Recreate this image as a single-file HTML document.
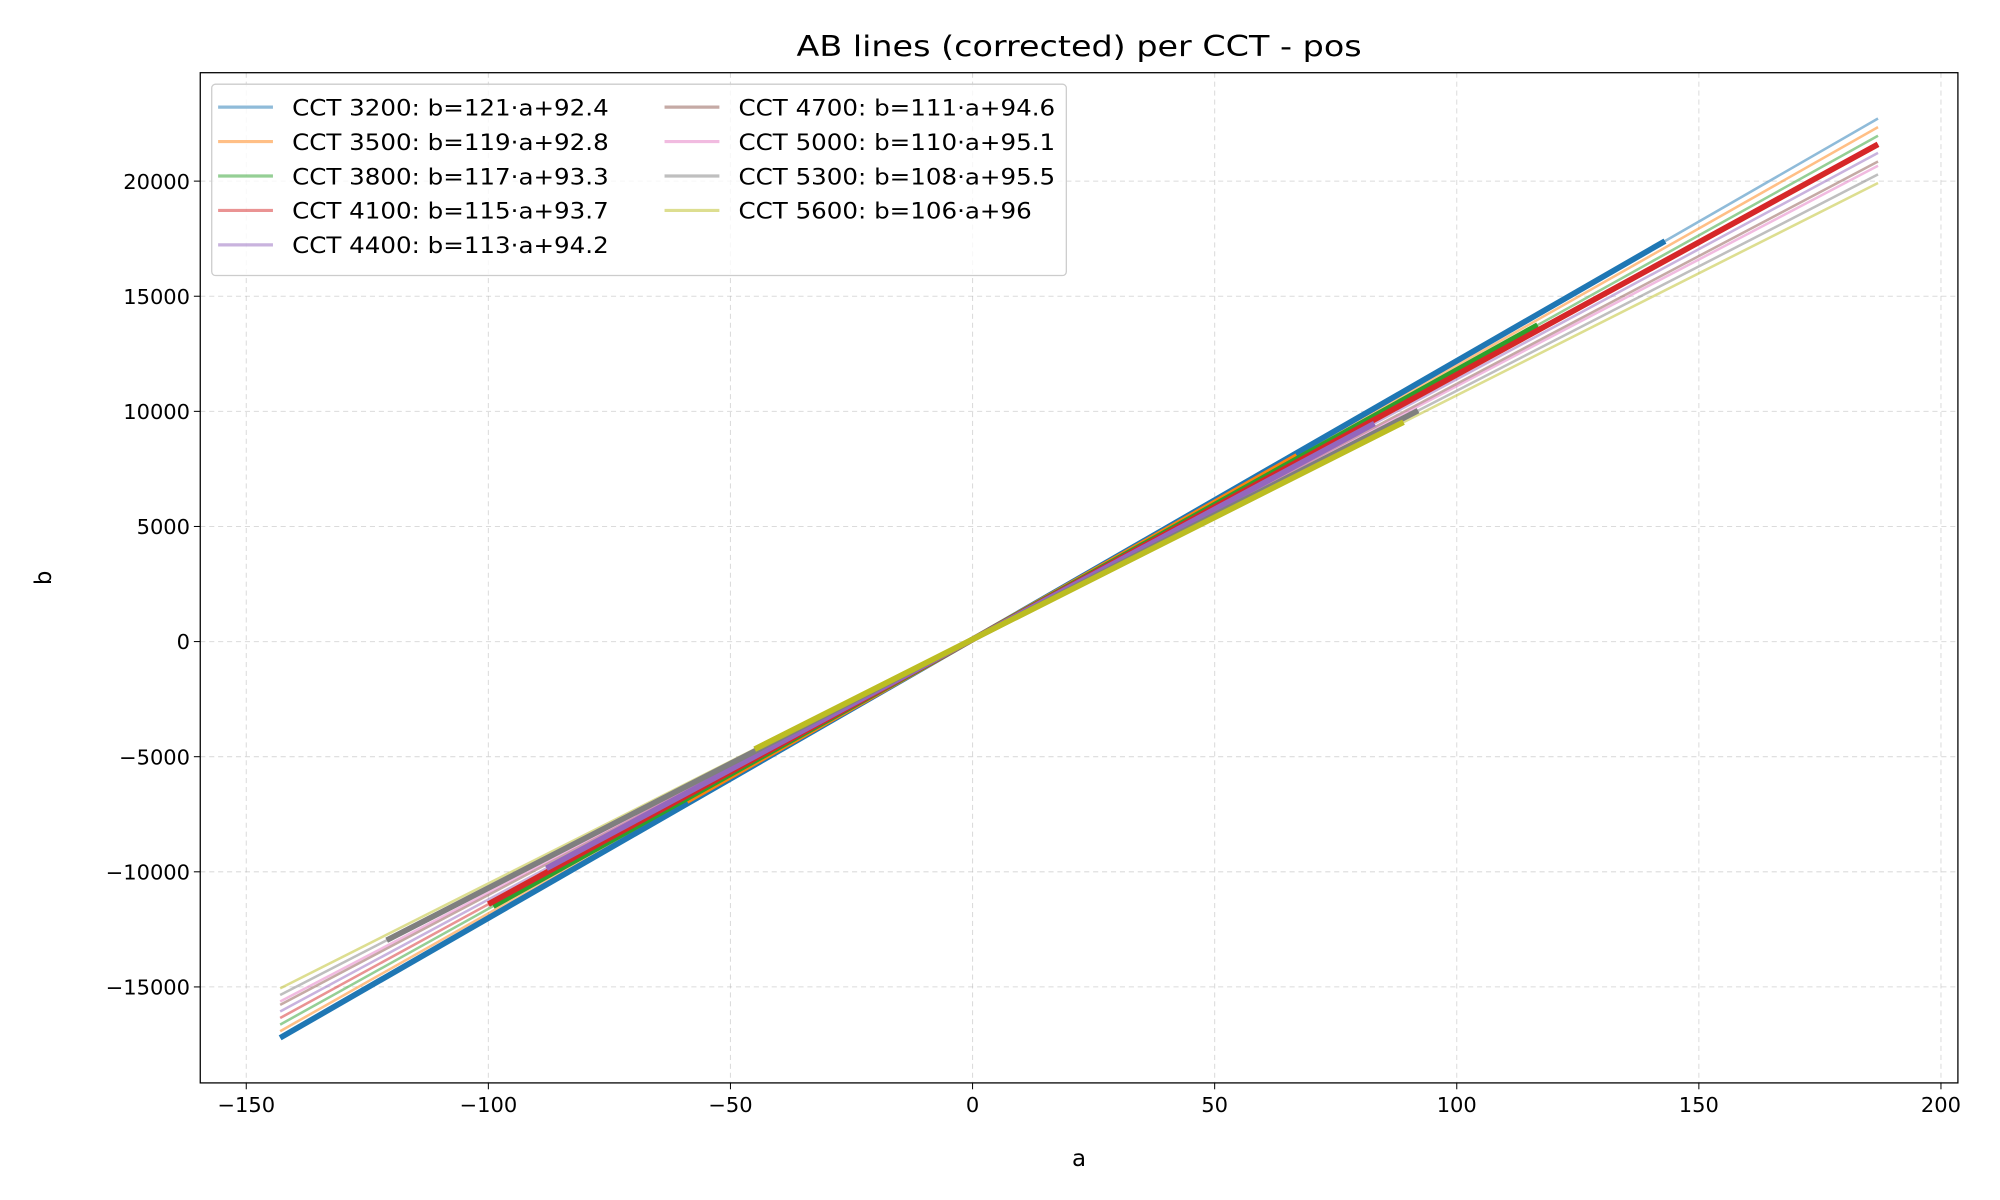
<!DOCTYPE html>
<html><head><meta charset="utf-8"><style>
html,body{margin:0;padding:0;background:#fff;}
svg{display:block;font-family:"DejaVu Sans","Liberation Sans",sans-serif;}
</style></head><body>
<svg id="chart" width="2000" height="1200" viewBox="0 0 1568 940.8" xmlns="http://www.w3.org/2000/svg">
<rect width="1568" height="941" fill="#fff"/>
<g id="grid"></g>
<g id="plot"></g>
<rect x="157" y="57" width="1378" height="792" fill="none" stroke="#000" stroke-width="1"/>
<g id="ticks"></g>
<text x="846" y="44" text-anchor="middle" font-size="22" transform="translate(846,0) scale(1.19,1) translate(-846,0)">AB lines (corrected) per CCT - pos</text>
<text x="846" y="914" text-anchor="middle" font-size="18">a</text>
<text x="40" y="453" text-anchor="middle" font-size="18" transform="rotate(-90 40 453)">b</text>
<g id="legend"></g>
</svg>
<script>
const ccts = [3200,3500,3800,4100,4400,4700,5000,5300,5600];
const slopes = [121,119,117,115,113,111,110,108,106];
const intercepts = [92.4,92.8,93.3,93.7,94.2,94.6,95.1,95.5,96];
const thickStart = [-143,-59,-99,-100,-88,null,null,-121,-45];
const thickEnd = [143,67,116.7,187,83,null,null,92,89];
const aMin = -143, aMax = 187;
const xTicks = [-150,-100,-50,0,50,100,150,200];
const yTicks = [-15000,-10000,-5000,0,5000,10000,15000,20000];
const colors = ['#1f77b4','#ff7f0e','#2ca02c','#d62728','#9467bd','#8c564b','#e377c2','#7f7f7f','#bcbd22'];

const NS='http://www.w3.org/2000/svg';
const L=157,R=1535,T=57,B=849;
const xmin=-159.5,xmax=203.5,ymin=-19169,ymax=24709;
const X=v=>L+(v-xmin)/(xmax-xmin)*(R-L);
const Y=v=>B-(v-ymin)/(ymax-ymin)*(B-T);
function mk(tag,attrs,parent){const e=document.createElementNS(NS,tag);for(const k in attrs)e.setAttribute(k,attrs[k]);parent.appendChild(e);return e;}
const sx=(x,s)=>'translate('+x+',0) scale('+s+',1) translate('+(-x)+',0)';
const grid=document.getElementById('grid'),plot=document.getElementById('plot'),ticks=document.getElementById('ticks'),leg=document.getElementById('legend');
const fmt=v=>(v<0?'\u2212':'')+Math.abs(v);
xTicks.forEach(v=>{
  const g=mk('line',{x1:X(v),x2:X(v),y1:T,y2:B,stroke:'#b0b0b0','stroke-opacity':0.45,'stroke-dasharray':'4,3','stroke-width':0.8},grid);
  
  
  const t=mk('line',{x1:X(v),x2:X(v),y1:B,y2:B+5,stroke:'#000','stroke-width':0.8},ticks);
  
  
  const tx=mk('text',{x:X(v),y:B+23,'text-anchor':'middle','font-size':16,transform:sx(X(v),1.03)},ticks);
  tx.textContent=fmt(v);
  
  
});
yTicks.forEach(v=>{
  const g=mk('line',{x1:L,x2:R,y1:Y(v),y2:Y(v),stroke:'#b0b0b0','stroke-opacity':0.45,'stroke-dasharray':'4,3','stroke-width':0.8},grid);
  
  
  const t=mk('line',{x1:L-5,x2:L,y1:Y(v),y2:Y(v),stroke:'#000','stroke-width':0.8},ticks);
  
  
  const tx=mk('text',{x:L-8,y:Y(v)+6,'text-anchor':'end','font-size':16,transform:sx(L-8,1.03)},ticks);
  tx.textContent=fmt(v);
  
  
});
ccts.forEach((c,i)=>{
  const f=a=>slopes[i]*a+intercepts[i];
  const l=mk('line',{x1:X(aMin),y1:Y(f(aMin)),x2:X(aMax),y2:Y(f(aMax)),stroke:colors[i],'stroke-opacity':0.5,'stroke-width':2},plot);
  
  
});
ccts.forEach((c,i)=>{
  if(thickStart[i]===null)return;
  const f=a=>slopes[i]*a+intercepts[i];
  const l=mk('line',{x1:X(thickStart[i]),y1:Y(f(thickStart[i])),x2:X(thickEnd[i]),y2:Y(f(thickEnd[i])),stroke:colors[i],'stroke-width':4.5},plot);
  
  
});
const box=mk('rect',{x:166,y:66,width:670,height:150,rx:3,fill:'#fff','fill-opacity':0.8,stroke:'#ccc','stroke-width':1},leg);


ccts.forEach((c,i)=>{
  const col=i<5?0:1,row=i<5?i:i-5;
  const lx=col?521:171,ty=84+row*27;
  const l=mk('line',{x1:lx,x2:lx+43,y1:ty,y2:ty,stroke:colors[i],'stroke-opacity':0.5,'stroke-width':2.5},leg);
  
  
  const t=mk('text',{x:lx+58,y:ty+6.5,'font-size':17.5,transform:sx(lx+58,1.1)},leg);
  t.textContent='CCT '+c+': b='+slopes[i]+'\u00b7a+'+intercepts[i];
  
  
});
</script>
</body></html>
